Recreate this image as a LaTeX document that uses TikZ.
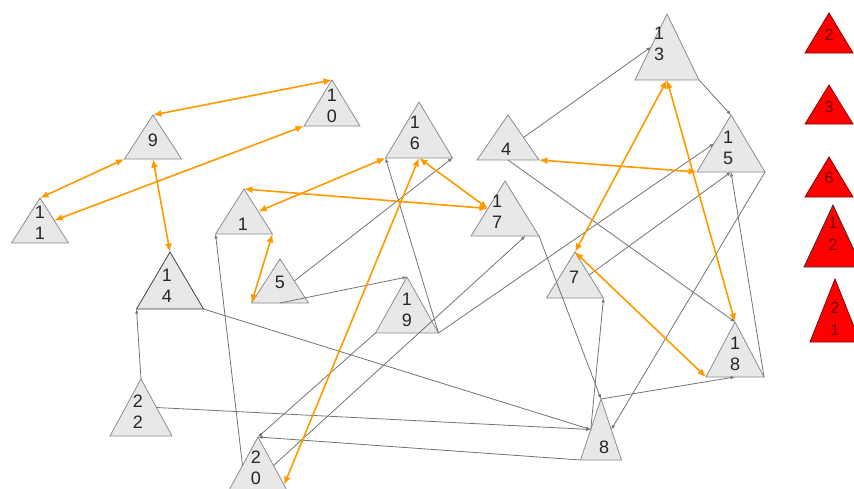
\documentclass[tikz,border=0pt]{standalone}
\usepackage{fontspec}
\setmainfont{Liberation Sans}
\usetikzlibrary{shapes.geometric,arrows.meta,calc}
\definecolor{trifill}{RGB}{232,232,232}
\definecolor{triline}{RGB}{140,140,140}
\definecolor{linkgray}{RGB}{115,115,115}
\definecolor{linkorange}{RGB}{255,153,0}
\definecolor{redfill}{RGB}{255,0,0}
\definecolor{redline}{RGB}{140,0,0}
\definecolor{redtext}{RGB}{110,0,0}
\tikzset{
  tri/.style 2 args={isosceles triangle, isosceles triangle stretches, shape border rotate=90,
    anchor=apex, minimum width=#1pt, minimum height=#2pt, draw=triline, fill=trifill, line width=0.8pt},
  redtri/.style 2 args={tri={#1}{#2}, draw=redline, fill=redfill},
  num/.style={font=\fontsize{18}{21}\selectfont, text=black!85, align=center},
  rednum/.style={font=\fontsize{16}{22}\selectfont, text=redtext, align=center},
  grayarrow/.style={draw=linkgray, line width=0.8pt, -{Latex[length=4.5pt,width=3.5pt]}},
  orangearrow/.style={draw=linkorange, line width=1.6pt, {Latex[length=8.5pt,width=7pt]}-{Latex[length=8.5pt,width=7pt]}}
}
\begin{document}
\begin{tikzpicture}[x=1pt,y=-1pt]
\tikzset{every node/.append style={inner sep=0pt, outer sep=0pt}}
\useasboundingbox (0,0) rectangle (854,488);
\node [tri={57}{44}] (n9) at (153,115) {};
\node [tri={56}{46}] (n10) at (332,80) {};
\node [tri={57}{45}] (n11) at (40,198) {};
\node [tri={57}{45}] (n1) at (244,189) {};
\node [tri={67}{56}] (n16) at (419,102) {};
\node [tri={62}{45}] (n4) at (508,115) {};
\node [tri={68}{55}] (n17) at (505,181) {};
\node [tri={57}{44}] (n5) at (280,259) {};
\node [tri={63}{56}] (n19) at (407,277) {};
\node [tri={64}{66}] (n13) at (667,14) {};
\node [tri={68}{57}] (n15) at (731,115) {};
\node [tri={57}{46}] (n7) at (575,252) {};
\node [tri={58}{55}] (n18) at (735,322) {};
\node [tri={41}{61}] (n8) at (601,399) {};
\node [tri={67}{57}, draw=black!75] (n14) at (170,252) {};
\node [tri={62}{57}] (n22) at (141,379) {};
\node [tri={62}{57}] (n20) at (258,437) {};
\node [redtri={48}{40}] (r2) at (829,13) {};
\node [redtri={48}{39}] (r3) at (829,85) {};
\node [redtri={48}{40}] (r6) at (829,157) {};
\node [redtri={58}{62}, draw=black!80] (r12) at (833,205) {};
\node [redtri={50}{63}] (r21) at (835,279) {};
\draw [grayarrow] (n4.right side) -- (n13.left side);
\draw [grayarrow] (n13.right corner) -- (n15.apex);
\draw [grayarrow] (n4.lower side) -- (n18.apex);
\draw [grayarrow] (n17.right corner) -- (n8.apex);
\draw [grayarrow] (n7.right side) -- (n15.lower side);
\draw [grayarrow] (n19.right corner) -- (n15.left side);
\draw [grayarrow] (n18.right corner) -- (n15.lower side);
\draw [grayarrow] (n15.right corner) -- (n8.right side);
\draw [grayarrow] (n5.right side) -- (n16.right corner);
\draw [grayarrow] (n19.right corner) -- (n16.left corner);
\draw [grayarrow] (n5.lower side) -- (n19.apex);
\draw [grayarrow] (n20.left side) -- (n1.left corner);
\draw [grayarrow] (n22.apex) -- (n14.left corner);
\draw [grayarrow] (n14.right corner) -- (n8.left side);
\draw [grayarrow] (n22.right side) -- (n8.left side);
\draw [grayarrow] (n8.left corner) -- (n20.apex);
\draw [grayarrow] (n8.apex) -- (n18.lower side);
\draw [grayarrow] (n8.left side) -- (n7.right corner);
\draw [grayarrow] (n19.left corner) -- (n20.apex);
\draw [grayarrow] (n20.right side) -- ($(n17.left corner)!0.8!(n17.right corner)$);
\draw [orangearrow] (n9.apex) -- (n10.apex);
\draw [orangearrow] (n11.apex) -- (n9.left corner);
\draw [orangearrow] (n11.right side) -- (n10.left corner);
\draw [orangearrow] (n9.lower side) -- (n14.apex);
\draw [orangearrow] (n1.apex) -- (n17.left side);
\draw [orangearrow] (n1.right side) -- (n16.left corner);
\draw [orangearrow] (n16.lower side) -- (n17.left side);
\draw [orangearrow] (n1.right corner) -- (n5.left corner);
\draw [orangearrow] (n16.lower side) -- ($(n20.apex)!0.84!(n20.right corner)$);
\draw [orangearrow] (n4.right corner) -- (n15.left corner);
\draw [orangearrow] (n13.lower side) -- (n7.apex);
\draw [orangearrow] (n13.lower side) -- (n18.apex);
\draw [orangearrow] (n7.apex) -- (n18.left corner);
\node [num] (t9) at (153,140) {9};
\node [num] (t10) at (332,105.5) {1\\0};
\node [num] (t11) at (40,222.5) {1\\1};
\node [num] (t1) at (243,224) {1};
\node [num] (t16) at (415,133) {1\\6};
\node [num] (t4) at (506,149) {4};
\node [num] (t17) at (497,212) {1\\7};
\node [num] (t5) at (280,282) {5};
\node [num] (t19) at (407,310) {1\\9};
\node [num] (t13) at (659,44) {1\\3};
\node [num] (t15) at (728,147.5) {1\\5};
\node [num] (t7) at (574,277) {7};
\node [num] (t18) at (735,353.5) {1\\8};
\node [num] (t8) at (604,447) {8};
\node [num] (t14) at (167,285.5) {1\\4};
\node [num] (t22) at (138,412) {2\\2};
\node [num] (t20) at (256,468) {2\\0};
\node [rednum] (tr2) at (829,35) {2};
\node [rednum] (tr3) at (829,107) {3};
\node [rednum] (tr6) at (829,178) {6};
\node [rednum] (tr12) at (833,234) {1\\2};
\node [rednum] (tr21) at (835,319) {2\\1};
\end{tikzpicture}
\end{document}
